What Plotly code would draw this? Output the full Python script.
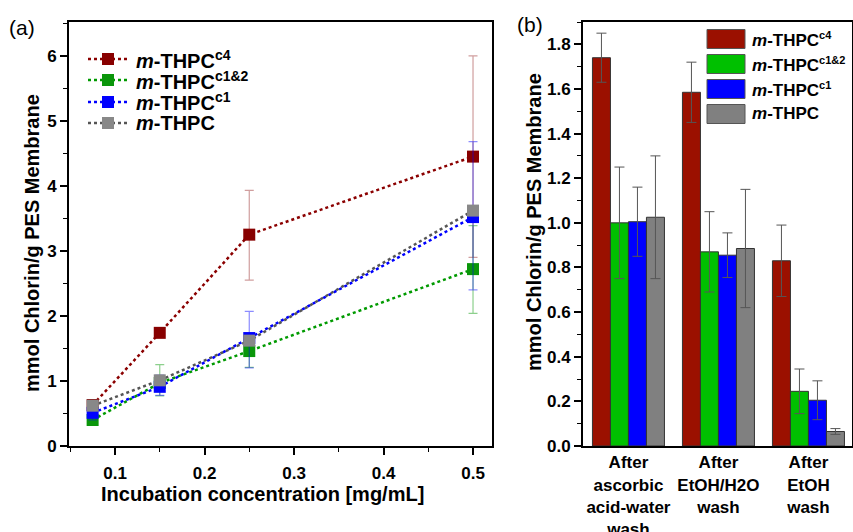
import plotly.graph_objects as go

# ---------------- data ----------------
conc = [0.075, 0.15, 0.25, 0.5]
names = ["c4", "c1&2", "c1", ""]

a_c4 = [0.63, 1.74, 3.25, 4.45]
a_c4_ep = [0.08, 0.07, 0.68, 1.55]
a_c4_em = [0.06, 0.07, 0.70, 1.55]
a_c12 = [0.40, 0.97, 1.46, 2.72]
a_c12_ep = [0.05, 0.28, 0.25, 0.67]
a_c12_em = [0.05, 0.20, 0.25, 0.68]
a_c1 = [0.51, 0.91, 1.66, 3.52]
a_c1_ep = [0.12, 0.18, 0.41, 1.16]
a_c1_em = [0.11, 0.13, 0.46, 1.12]
a_base = [0.62, 1.01, 1.62, 3.62]
a_base_ep = [0.04, 0.04, 0.05, 0.06]
a_base_em = [0.04, 0.04, 0.05, 0.06]

washes = ["After<br>ascorbic<br>acid-water<br>wash", "After<br>EtOH/H2O<br>wash", "After<br>EtOH<br>wash"]
b_c4 = [1.74, 1.585, 0.83]
b_c4_e = [0.11, 0.135, 0.16]
b_c12 = [1.00, 0.87, 0.245]
b_c12_e = [0.25, 0.18, 0.10]
b_c1 = [1.005, 0.855, 0.205]
b_c1_e = [0.155, 0.10, 0.087]
b_base = [1.025, 0.885, 0.065]
b_base_e = [0.275, 0.265, 0.013]

a_ticks_x = [0.1, 0.2, 0.3, 0.4, 0.5]
a_ticks_y = [0, 1, 2, 3, 4, 5, 6]
b_ticks_y = [0.0, 0.2, 0.4, 0.6, 0.8, 1.0, 1.2, 1.4, 1.6, 1.8]

# ---------------- styles ----------------
W, H = 853, 532
ML, MR, MT, MB = 69, 1, 22, 86
PW, PH = W - ML - MR, H - MT - MB
FONT = "Liberation Sans, Arial, sans-serif"

def px(x):
    return (x - ML) / PW

def py(y):
    return (H - MB - y) / PH

line_cols = ["#8b0000", "#009a00", "#0000ff", "#555555"]
mark_cols = ["#880000", "#0a960a", "#0000ff", "#888888"]
err_cols = ["rgba(150,40,40,0.45)", "rgba(0,150,0,0.45)", "rgba(0,0,255,0.45)", "rgba(100,100,100,0.35)"]
bar_cols = ["#9b1000", "#00c000", "#0000ff", "#808080"]

fig = go.Figure()

a_series = [(a_c4, a_c4_ep, a_c4_em), (a_c12, a_c12_ep, a_c12_em),
            (a_c1, a_c1_ep, a_c1_em), (a_base, a_base_ep, a_base_em)]
for i, (ys, ep, em) in enumerate(a_series):
    fig.add_trace(go.Scatter(
        x=conc, y=ys, mode="lines+markers", xaxis="x", yaxis="y", showlegend=False,
        line=dict(color=line_cols[i], dash="dot", width=2.5),
        marker=dict(symbol="square", size=12, color=mark_cols[i]),
        error_y=dict(type="data", array=ep, arrayminus=em, symmetric=False,
                     color=err_cols[i], thickness=1.2, width=4.5),
    ))

b_series = [(b_c4, b_c4_e), (b_c12, b_c12_e), (b_c1, b_c1_e), (b_base, b_base_e)]
for i, (ys, e) in enumerate(b_series):
    fig.add_trace(go.Bar(
        x=washes, y=ys, xaxis="x2", yaxis="y2", showlegend=False,
        marker=dict(color=bar_cols[i], line=dict(color="#333333", width=1)),
        error_y=dict(type="data", array=e, color="#555555", thickness=1, width=5),
    ))

tickfont = dict(family=FONT, size=17, color="black", weight="bold")
axis_common = dict(showline=True, linecolor="black", linewidth=2, mirror=True,
                   ticks="outside", ticklen=7, tickwidth=1.5, tickcolor="black",
                   showgrid=False, zeroline=False, tickfont=tickfont, automargin=False)

fig.update_layout(
    width=W, height=H,
    margin=dict(l=ML, r=MR, t=MT, b=MB, autoexpand=False),
    paper_bgcolor="white", plot_bgcolor="white",
    barmode="group", bargap=0.2, bargroupgap=0,
    xaxis=dict(domain=[0, px(492)], range=[0.0486, 0.5212], tickvals=a_ticks_x,
               ticktext=[f"{v:.1f}" for v in a_ticks_x],
               minor=dict(dtick=0.05, tick0=0, ticks="outside", ticklen=4, tickcolor="black", tickwidth=1.2),
               ticklabelstandoff=4, **axis_common),
    yaxis=dict(domain=[0, 1], range=[0, 6.52], tickvals=a_ticks_y,
               minor=dict(dtick=0.5, tick0=0, ticks="outside", ticklen=4, tickcolor="black", tickwidth=1.2),
               anchor="x", **axis_common),
    xaxis2=dict(domain=[px(583), 1], range=[-0.505, 2.484], type="category",
                anchor="y2", showline=True, linecolor="black", linewidth=2, mirror=True,
                ticks="", showgrid=False, zeroline=False, tickfont=tickfont, automargin=False),
    yaxis2=dict(domain=[0, 1], range=[0, 1.9], tickvals=b_ticks_y,
                ticktext=[f"{v:.1f}" for v in b_ticks_y],
                minor=dict(dtick=0.1, tick0=0, ticks="outside", ticklen=4, tickcolor="black", tickwidth=1.2),
                anchor="x2", **axis_common),
)

ann = []
# axis titles
title_font = dict(family=FONT, size=20, color="black", weight="bold")
ann.append(dict(text="mmol Chlorin/g PES Membrane", xref="paper", yref="paper",
                x=px(32), y=py(243), textangle=-90, showarrow=False,
                font=title_font, xanchor="center", yanchor="middle"))
ann.append(dict(text="mmol Chlorin/g PES Membrane", xref="paper", yref="paper",
                x=px(534), y=py(222), textangle=-90, showarrow=False,
                font=title_font, xanchor="center", yanchor="middle"))
ann.append(dict(text="Incubation concentration [mg/mL]", xref="paper", yref="paper",
                x=px(262), y=py(494), showarrow=False, font=title_font,
                xanchor="center", yanchor="middle"))
# panel labels
ann.append(dict(text="(a)", xref="paper", yref="paper", x=px(22), y=py(27), showarrow=False,
                font=dict(family=FONT, size=21, color="black"), xanchor="center", yanchor="middle"))
ann.append(dict(text="(b)", xref="paper", yref="paper", x=px(530), y=py(25), showarrow=False,
                font=dict(family=FONT, size=21, color="black"), xanchor="center", yanchor="middle"))

shapes = []
# legend for (a)
leg_a_rows = [59, 80, 102, 123]
for i, yy in enumerate(leg_a_rows):
    shapes.append(dict(type="line", xref="paper", yref="paper", x0=px(88), x1=px(128),
                       y0=py(yy), y1=py(yy), line=dict(color=line_cols[i], width=2.5, dash="dot")))
    shapes.append(dict(type="rect", xref="paper", yref="paper", x0=px(102), x1=px(114),
                       y0=py(yy + 6), y1=py(yy - 6), fillcolor=mark_cols[i], line=dict(width=0)))
    sup = f"<sup>{names[i]}</sup>" if names[i] else ""
    ann.append(dict(text=f"<i>m</i>-THPC{sup}", xref="paper", yref="paper", x=px(134), y=py(yy),
                    showarrow=False, xanchor="left", yanchor="middle",
                    font=dict(family=FONT, size=20, color="black", weight="bold")))

# legend for (b)
leg_b_rows = [39, 64, 89, 114]
for i, yy in enumerate(leg_b_rows):
    shapes.append(dict(type="rect", xref="paper", yref="paper", x0=px(707), x1=px(745),
                       y0=py(yy + 9.5), y1=py(yy - 9.5), fillcolor=bar_cols[i],
                       line=dict(color="#555555", width=1)))
    sup = f"<sup><span style='font-size:11px'>{names[i]}</span></sup>" if names[i] else ""
    ann.append(dict(text=f"<i>m</i>-THPC{sup}", xref="paper", yref="paper", x=px(750), y=py(yy),
                    showarrow=False, xanchor="left", yanchor="middle",
                    font=dict(family=FONT, size=17, color="black", weight="bold")))

fig.update_layout(annotations=ann, shapes=shapes)
fig.write_html("out.html", config={"displayModeBar": False},
               post_script="document.body.style.margin='0';document.body.style.padding='0';document.body.style.overflow='hidden';")
